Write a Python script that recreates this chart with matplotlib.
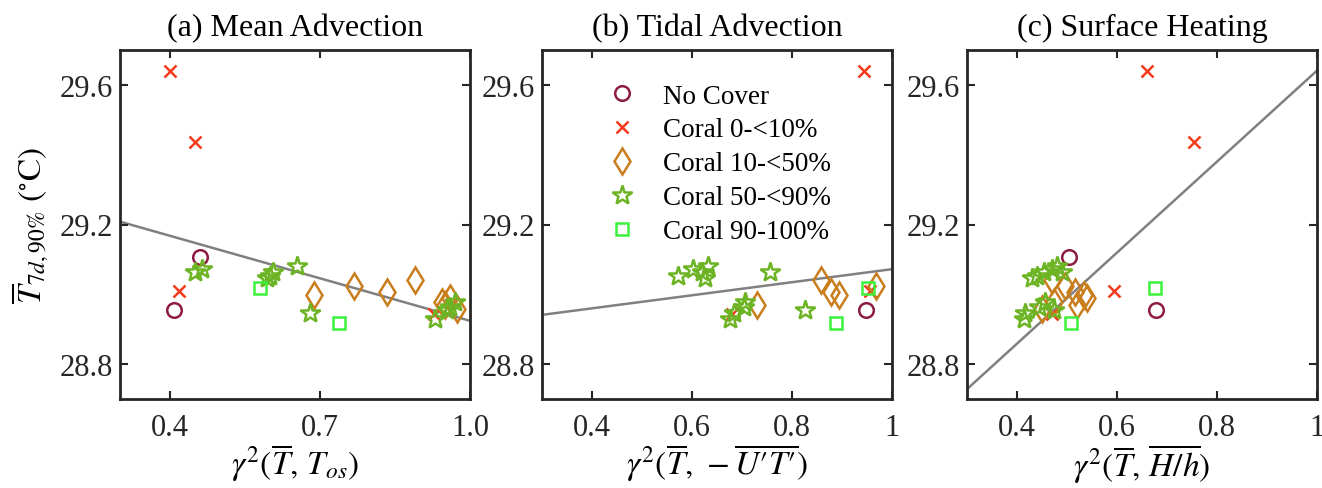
import numpy as np
import matplotlib
matplotlib.use('Agg')
import matplotlib.pyplot as plt

plt.rcParams['font.family'] = 'serif'
plt.rcParams['font.serif'] = ['Liberation Serif', 'DejaVu Serif']
plt.rcParams['mathtext.fontset'] = 'stix'

nan = np.nan

# y values shared by the three panels (one value per site)
y_nocover = [29.108, 28.955]
y_c0 = [29.641, 29.437, 29.010, 28.943]
y_c10 = [29.040, 29.024, 29.006, 28.997, 28.990, 28.978, 28.970, 28.957]
y_c50 = [29.082, 29.072, 29.065, 29.063, 29.052, 29.046, 28.978, 28.965, 28.955, 28.945, 28.928]
y_c90 = [29.017, 28.919]

# (a) mean advection
xa_nocover = [0.459, 0.408]
xa_c0 = [0.400, 0.449, 0.417, 0.927]
xa_c10 = [0.889, 0.767, 0.833, 0.688, 0.960, 0.943, 0.950, 0.973]
xa_c50 = [0.653, 0.463, 0.449, 0.605, 0.600, 0.593, 0.970, 0.960, 0.953, 0.679, 0.930]
xa_c90 = [0.580, 0.738]

# (b) tidal advection
xb_nocover = [nan, 0.948]
xb_c0 = [0.944, nan, 0.956, 0.679]
xb_c10 = [0.859, 0.968, 0.879, 0.895, nan, nan, 0.729, nan]
xb_c50 = [0.631, 0.601, 0.756, 0.619, 0.571, 0.626, 0.705, 0.703, 0.826, 0.683, 0.675]
xb_c90 = [0.953, 0.889]

# (c) surface heating
xc_nocover = [0.503, 0.678]
xc_c0 = [0.659, 0.753, 0.593, 0.469]
xc_c10 = [0.469, 0.496, 0.516, 0.533, 0.539, 0.473, 0.519, 0.449]
xc_c50 = [0.480, 0.469, 0.489, 0.453, 0.440, 0.429, 0.456, 0.443, 0.473, 0.416, 0.413]
xc_c90 = [0.675, 0.507]

# fitted lines: slope, intercept
fit_a = (-0.406, 29.330)
fit_b = (0.187, 28.885)
fit_c = (1.304, 28.337)

titles = ['(a) Mean Advection', '(b) Tidal Advection', '(c) Surface Heating']
xlabels = [r'$\gamma^2(\overline{T},\,T_{os})$',
           r'$\gamma^2(\overline{T},\,-\overline{U′T′})$',
           r'$\gamma^2(\overline{T},\,\overline{H/h})$']
xticks_a = [0.4, 0.7, 1.0]
xticklabels_a = ['0.4', '0.7', '1.0']
xticks_bc = [0.4, 0.6, 0.8, 1.0]
xticklabels_bc = ['0.4', '0.6', '0.8', '1']
yticks = [28.8, 29.2, 29.6]

labels = ['No Cover', 'Coral 0-<10%', 'Coral 10-<50%', 'Coral 50-<90%', 'Coral 90-100%']
styles = [
    dict(marker='o', color='#8e1b45', ms=10.5),
    dict(marker='x', color='#f53a1c', ms=9),
    dict(marker='d', color='#c97d1d', ms=13.5),
    dict(marker='*', color='#6cb424', ms=15),
    dict(marker='s', color='#3cf03c', ms=8.5),
]

panels = [
    ([xa_nocover, xa_c0, xa_c10, xa_c50, xa_c90], fit_a),
    ([xb_nocover, xb_c0, xb_c10, xb_c50, xb_c90], fit_b),
    ([xc_nocover, xc_c0, xc_c10, xc_c50, xc_c90], fit_c),
]
ys = [y_nocover, y_c0, y_c10, y_c50, y_c90]

fig = plt.figure(figsize=(13.22, 4.89), dpi=100)
lefts = [120 / 1322, 542 / 1322, 967 / 1322]

for i, (xs, fit) in enumerate(panels):
    ax = fig.add_axes([lefts[i], 89 / 489, 350 / 1322, 349 / 489])
    xl = np.array([0.3, 1.0])
    ax.plot(xl, fit[0] * xl + fit[1], color='#808080', lw=1.8, zorder=1)
    handles = []
    for x, y, st, lab in zip(xs, ys, styles, labels):
        h, = ax.plot(x, y, ls='none', marker=st['marker'], ms=st['ms'], mew=1.8,
                     mec=st['color'], mfc='none', label=lab, zorder=2)
        handles.append(h)
    ax.set_xlim(0.3, 1.0)
    ax.set_ylim(28.7, 29.7)
    ax.set_yticks(yticks)
    ax.set_yticklabels(['28.8', '29.2', '29.6'])
    if i == 0:
        ax.set_xticks(xticks_a)
        ax.set_xticklabels(xticklabels_a)
    else:
        ax.set_xticks(xticks_bc)
        ax.set_xticklabels(xticklabels_bc)
    ax.tick_params(direction='in', top=True, right=True, length=6, width=1.5,
                   labelsize=22, colors='#262626', labelcolor='#262626')
    ax.tick_params(axis='x', pad=10)
    ax.tick_params(axis='y', pad=5)
    for sp in ax.spines.values():
        sp.set_linewidth(2.0)
        sp.set_color('#262626')
    ax.set_title(titles[i], fontsize=23, pad=11)
    ax.set_xlabel(xlabels[i], fontsize=24, labelpad=0)
    if i == 0:
        ax.set_ylabel(r'$\overline{T}_{7d,90\%}$ $(^{\circ}\mathrm{C})$', fontsize=24, labelpad=6)
    if i == 1:
        ax.legend(handles=handles, loc='upper left', bbox_to_anchor=(0.16, 0.935),
                  frameon=False, fontsize=19.5, handlelength=1.0, handletextpad=1.0,
                  labelspacing=0.33, numpoints=1, borderaxespad=0)

fig.savefig('out.png', dpi=100)
